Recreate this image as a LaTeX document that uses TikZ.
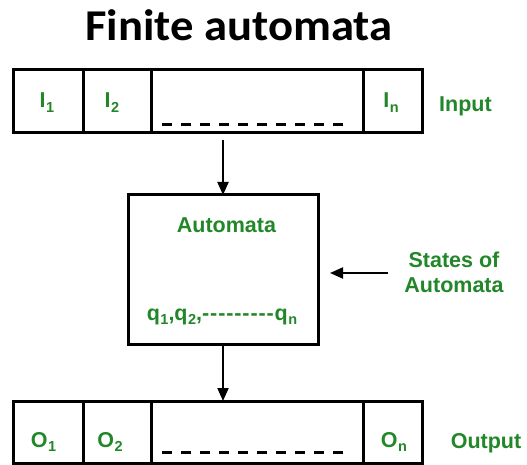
\documentclass[tikz,border=0pt]{standalone}
\usepackage{fontspec}
\setmainfont{Liberation Sans}
\newfontfamily\titlefont{Carlito}[FakeStretch=1.06]
\usetikzlibrary{arrows.meta}
\definecolor{labgreen}{RGB}{34,135,40}
\newcommand\hy{-\kern0.9pt}
\newcommand\sub[1]{\kern0.5pt\raisebox{-4.5pt}{\fontsize{14.5}{15}\selectfont#1}}
\begin{document}
\begin{tikzpicture}[x=1pt,y=-1pt,
  frame/.style={draw=black,line width=3pt,inner sep=0pt,outer sep=0pt,anchor=north west},
  cell/.style={frame,minimum height=63pt},
  lab/.style={text=labgreen,font=\bfseries\fontsize{21.5}{25}\selectfont,inner sep=0pt,anchor=base},
  blank/.style={line width=3pt,dash pattern=on 10pt off 9pt},
  arr/.style={line width=2pt,-{Triangle[length=13pt,width=11pt]}}]
\useasboundingbox (0,0) rectangle (527,465);

% title
\node[anchor=base,inner sep=0pt] (title) at (239,41)
  {\titlefont\bfseries\fontsize{44}{48}\selectfont Finite automata};

% input tape
\node[cell,minimum width=70pt]  (i1) at (13,70) {};
\node[cell,minimum width=68pt]  (i2) at (83,70) {};
\node[cell,minimum width=212pt] (i3) at (151,70) {};
\node[cell,minimum width=59pt]  (i4) at (363,70) {};
\draw[blank] (162,125) -- (351,125);
\node[lab] (li1) at (47,108) {I\sub{1}};
\node[lab] (li2) at (112,108) {I\sub{2}};
\node[lab] (li4) at (391,108) {I\sub{n}};
\node[lab] (input) at (465.5,112) {Input};

% automaton
\node[frame,minimum width=190pt,minimum height=149pt] (box) at (128,195) {};
\node[lab] (aut) at (226.5,232) {Automata};
\node[lab] (states) at (222,320) {q\sub{1},q\sub{2},\hy\hy\hy\hy\hy\hy\hy\hy\hy q\sub{n}};
\node[lab,anchor=center,align=center] (soa) at (454,272) {States of\\Automata};

% output tape
\node[cell,minimum width=70pt,minimum height=62pt]  (o1) at (13,401) {};
\node[cell,minimum width=68pt,minimum height=62pt]  (o2) at (83,401) {};
\node[cell,minimum width=212pt,minimum height=62pt] (o3) at (151,401) {};
\node[cell,minimum width=59pt,minimum height=62pt]  (o4) at (363,401) {};
\draw[blank] (162,452) -- (351,452);
\node[lab] (lo1) at (43.5,447) {O\sub{1}};
\node[lab] (lo2) at (110,447) {O\sub{2}};
\node[lab] (lo4) at (394,447) {O\sub{n}};
\node[lab] (output) at (486,448) {Output};

% connectors
\coordinate (feed) at (223,140);
\coordinate (stin) at (330,273);
\coordinate (stout) at (388,273);
\draw[arr] (feed) -- (box.north);
\draw[arr] (box.south) -- (box.south |- o3.north);
\draw[arr] (stout) -- (stin);
\end{tikzpicture}
\end{document}
